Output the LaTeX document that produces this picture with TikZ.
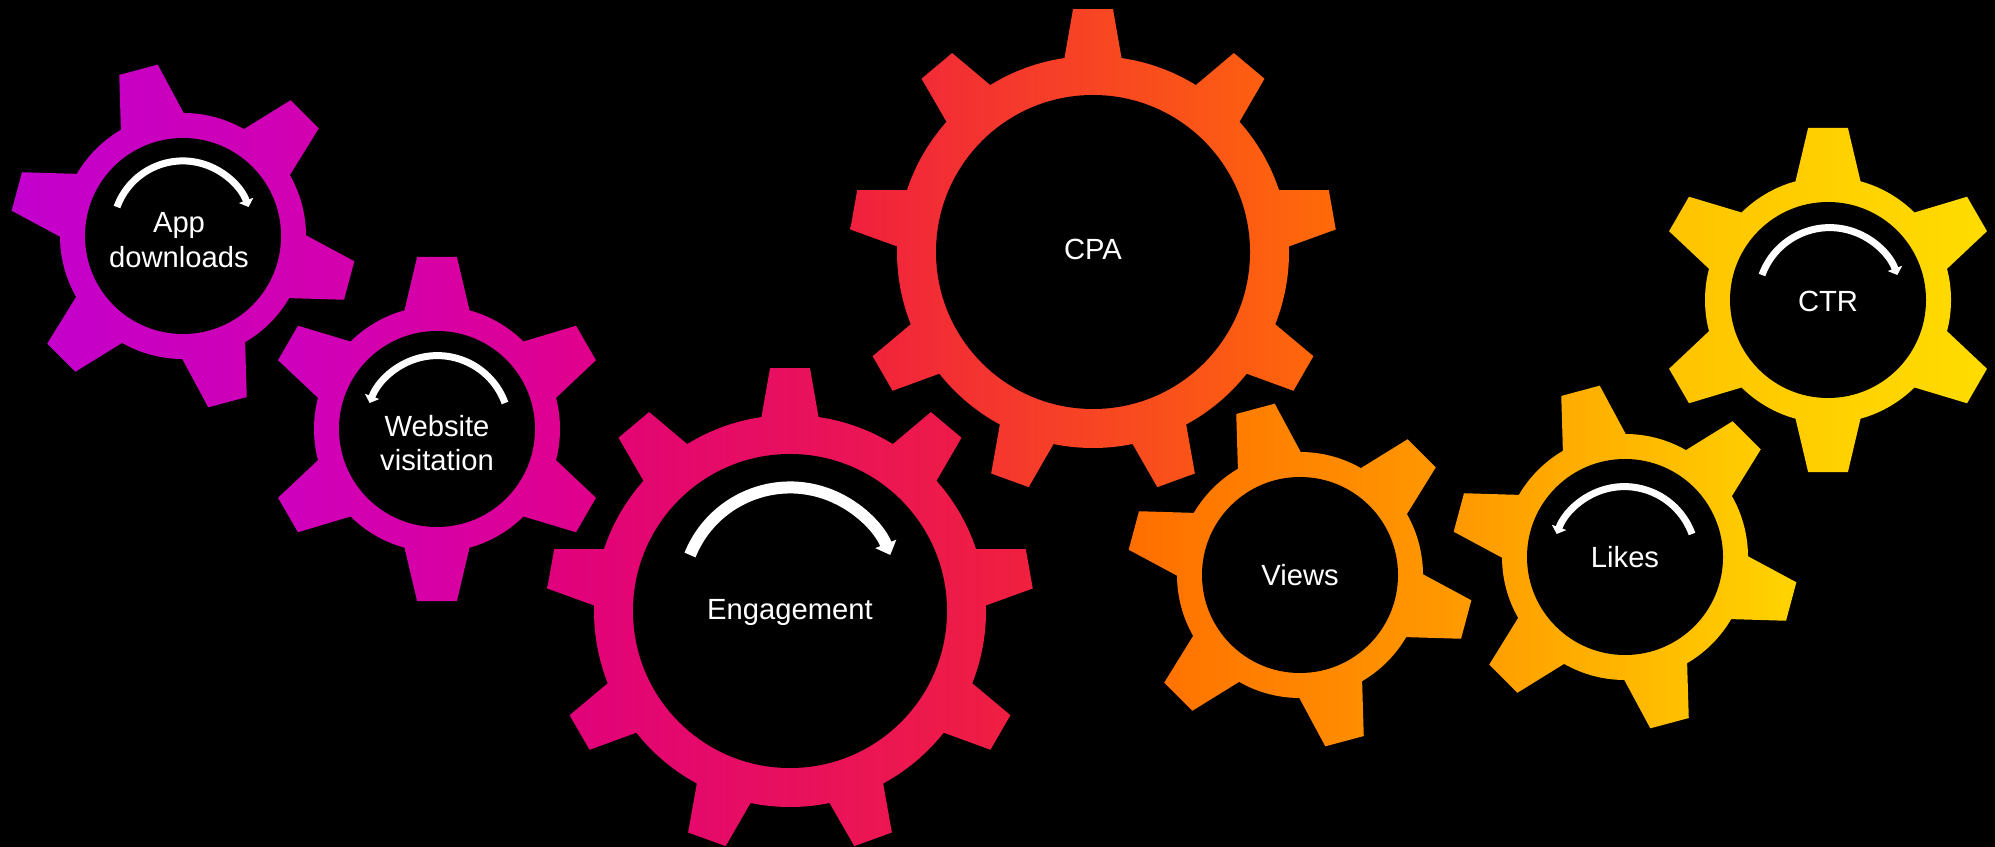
\documentclass[tikz,border=0pt]{standalone}
\usepackage{fontspec}
\setmainfont{Liberation Sans}
\usetikzlibrary{arrows.meta}

\definecolor{appL}{HTML}{C200CE}
\definecolor{appR}{HTML}{D400AC}
\definecolor{webL}{HTML}{CE00BE}
\definecolor{webR}{HTML}{E0008A}
\definecolor{engL}{HTML}{E0007E}
\definecolor{engR}{HTML}{F0203E}
\definecolor{cpaL}{HTML}{F0203E}
\definecolor{cpaR}{HTML}{FF6A08}
\definecolor{viewL}{HTML}{FF6E00}
\definecolor{viewR}{HTML}{FF9C00}
\definecolor{likeL}{HTML}{FF9800}
\definecolor{likeR}{HTML}{FFD400}
\definecolor{ctrL}{HTML}{FFC400}
\definecolor{ctrR}{HTML}{FFDC00}

% small cog: name, centre, first tooth angle, left colour, right colour
\newcommand{\smallcog}[5]{%
  \coordinate (#1) at (#2);
  \begin{scope}[shift={(#2)}]
    \shade[left color=#4, right color=#5] (0,0) circle (123)
      \foreach \a in {0,60,...,300} {
        (#3+\a-18.8:110.9) -- (#3+\a-6.6:173.2) -- (#3+\a+6.6:173.2) -- (#3+\a+18.8:110.9) -- cycle};
    \fill[black] (0,0) circle (98);
  \end{scope}}

% big cog, nine teeth
\newcommand{\bigcog}[5]{%
  \coordinate (#1) at (#2);
  \begin{scope}[shift={(#2)}]
    \shade[left color=#4, right color=#5] (0,0) circle (196)
      \foreach \a in {0,40,...,320} {
        (#3+\a-10.9:173.1) -- (#3+\a-4.7:243.8) -- (#3+\a+4.7:243.8) -- (#3+\a+10.9:173.1) -- cycle};
    \fill[black] (0,0) circle (157);
  \end{scope}}

\tikzset{
  metric/.style={text=white, align=center, font=\fontsize{14.6}{17.4}\selectfont},
  turn/.style={draw=white, line width=3.5pt, -{Triangle[length=3.5pt,width=7.5pt]}},
  bigturn/.style={draw=white, line width=6pt, -{Triangle[length=6pt,width=11pt]}}
}

\begin{document}
\begin{tikzpicture}[x=0.5pt, y=0.5pt]
\useasboundingbox (0,0) rectangle (1995,846);
\fill[black] (-10,-10) rectangle (2005,856);

\smallcog{appgear}{183,610}{45}{appL}{appR}
\smallcog{webgear}{437,417}{30}{webL}{webR}
\bigcog{enggear}{790,235}{10}{engL}{engR}
\bigcog{cpagear}{1093,594}{10}{cpaL}{cpaR}
\smallcog{viewgear}{1300,271}{45}{viewL}{viewR}
\smallcog{likegear}{1625,289}{45}{likeL}{likeR}
\smallcog{ctrgear}{1828,546}{30}{ctrL}{ctrR}

% turning arrows
\draw[turn] (appgear) ++(-66,29) arc[start angle=160, end angle=20, radius=70];
\draw[turn] (webgear) ++(68,26) arc[start angle=20, end angle=160, radius=72];
\draw[bigturn] (enggear) ++(-100,56) arc[start angle=158, end angle=22, radius=108];
\draw[turn] (likegear) ++(67,23) arc[start angle=20, end angle=160, radius=72];
\draw[turn] (ctrgear) ++(-66,25) arc[start angle=160, end angle=20, radius=72];

\node[metric] (app) at (179,606) {App\\downloads};
\node[metric] (web) at (437,403) {Website\\visitation};
\node[metric] (eng) at (790,234) {Engagement};
\node[metric] (cpa) at (1093,597) {CPA};
\node[metric] (views) at (1300,271) {Views};
\node[metric] (likes) at (1625,289) {Likes};
\node[metric] (ctr) at (1828,545) {CTR};
\end{tikzpicture}
\end{document}
